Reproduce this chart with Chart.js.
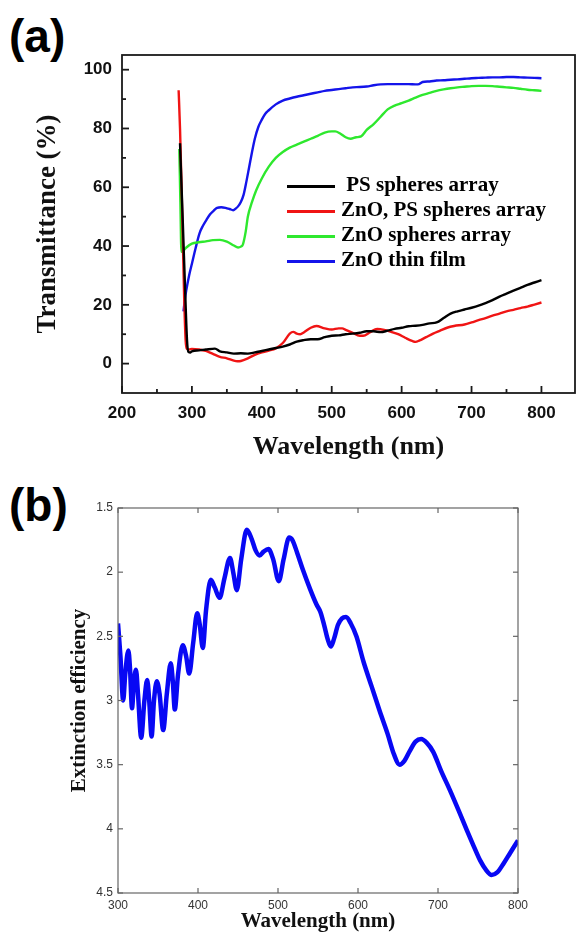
<!DOCTYPE html>
<html lang="en">
<head>
  <meta charset="UTF-8" />
  <title>Transmittance and extinction spectra</title>
  <script src="https://cdn.jsdelivr.net/npm/chart.js"></script>
  <style>
    body {
      margin: 0;
      background: #fff;
      width: 576px;
      height: 936px;
      position: relative;
      overflow: hidden;
    }
    canvas {
      position: absolute;
      left: 0;
    }
    #chartA { top: 0; }
    #chartB { top: 470px; }
    .panel {
      position: absolute;
      left: 9px;
      font-family: "Liberation Sans", Arial, sans-serif;
      font-weight: bold;
      font-size: 46px;
      line-height: 46px;
    }
    #legendA {
      position: absolute;
      left: 287px;
      top: 172px;
      font-family: "Liberation Serif", "Times New Roman", serif;
      font-weight: bold;
      font-size: 21px;
    }
    #legendA .row {
      height: 25px;
      line-height: 25px;
      white-space: pre;
    }
    #legendA .swatch {
      display: inline-block;
      width: 48px;
      height: 3px;
      vertical-align: middle;
      margin-right: 6px;
    }
  </style>
</head>
<body>
  <div class="panel" style="top: 13px;">(a)</div>
  <div class="panel" style="top: 482px;">(b)</div>
  <canvas id="chartA" width="576" height="470"></canvas>
  <div id="legendA"></div>
  <canvas id="chartB" width="576" height="466"></canvas>

  <script>
    // (a) transmittance spectra
    const psWl = [283, 287, 291, 293, 295, 298, 300, 310, 320, 333, 340, 350, 360, 370, 380, 390, 400, 410, 420, 430, 440, 450, 460, 470, 480, 490, 500, 510, 520, 530, 540, 550, 560, 570, 580, 590, 600, 610, 620, 630, 640, 650, 660, 670, 680, 690, 700, 710, 720, 730, 740, 750, 760, 770, 780, 790, 800];
    const psT = [75, 48, 20, 8, 4, 3.8, 4.2, 4.5, 4.8, 5.1, 4.2, 3.8, 3.4, 3.5, 3.4, 3.8, 4.3, 4.8, 5.3, 5.8, 6.5, 7.5, 8.0, 8.3, 8.3, 9.0, 9.5, 9.6, 10.0, 10.2, 10.5, 11.0, 11.0, 10.7, 11.2, 11.8, 12.2, 12.7, 12.9, 13.2, 13.7, 14.0, 15.5, 17.0, 17.8, 18.4, 19.0, 19.7, 20.6, 21.6, 22.8, 23.8, 24.8, 25.8, 26.8, 27.6, 28.4];

    const znoPsWl = [281, 283, 285, 287, 289, 291, 293, 296, 300, 310, 320, 330, 340, 350, 360, 365, 370, 380, 390, 400, 410, 420, 430, 440, 445, 450, 455, 460, 470, 478, 490, 500, 510, 515, 520, 530, 540, 545, 555, 565, 575, 585, 595, 605, 615, 620, 625, 635, 645, 655, 665, 675, 690, 700, 710, 720, 730, 740, 750, 760, 770, 780, 790, 800];
    const znoPsT = [93, 80, 62, 42, 22, 8, 5, 4.8, 5.0, 4.8, 4.3, 3.3, 2.3, 1.8, 1.0, 0.8, 0.9, 1.8, 3.0, 3.8, 4.4, 5.2, 7.0, 10.2, 10.8, 10.2, 10.0, 10.6, 12.2, 12.8, 12.0, 11.6, 12.0, 12.0, 11.5, 10.5, 9.5, 9.5, 10.7, 11.8, 11.5, 10.8, 10.0, 8.8, 7.7, 7.4, 7.8, 9.0, 10.2, 11.2, 12.2, 12.8, 13.3, 14.0, 14.8, 15.5, 16.3, 17.0, 17.8, 18.3, 18.9, 19.4, 20.1, 20.8];

    const znoSphWl = [282, 283.5, 285, 288, 292, 300, 310, 320, 330, 340, 350, 360, 366, 370, 373, 377, 380, 386, 392, 400, 410, 420, 430, 440, 450, 460, 470, 480, 490, 500, 505, 512, 520, 527, 535, 542, 550, 560, 570, 580, 590, 600, 610, 620, 630, 640, 650, 660, 670, 680, 690, 700, 710, 720, 730, 740, 750, 760, 770, 780, 790, 800];
    const znoSphT = [73, 55, 38, 38.5, 39.5, 40.8, 41.3, 41.6, 42.0, 42.1, 41.5, 40.2, 39.5, 39.8, 40.6, 45, 50, 55, 59, 63, 67, 70, 72, 73.5, 74.5, 75.5, 76.5, 77.5, 78.6, 79, 79, 78.3, 77, 76.5, 77, 77.3, 79.5, 81.5, 84, 86.5, 87.8, 88.6, 89.5, 90.5, 91.4, 92.1, 92.8, 93.3, 93.7, 94.0, 94.2, 94.4, 94.5, 94.5, 94.4, 94.2, 94.0, 93.8, 93.5, 93.2, 93.0, 92.8];

    const filmWl = [288, 290, 292, 296, 300, 305, 311, 316, 321, 326, 331, 336, 342, 348, 354, 359, 363, 366, 370, 374, 378, 382, 386, 390, 395, 400, 405, 410, 420, 430, 440, 450, 460, 470, 480, 490, 500, 510, 520, 530, 540, 550, 560, 570, 580, 590, 600, 610, 620, 625, 630, 640, 650, 660, 670, 680, 690, 700, 710, 720, 730, 740, 750, 760, 770, 780, 790, 800];
    const filmT = [17.8, 22, 25, 30, 34, 39, 44.4, 47, 49, 50.8, 52, 53, 53.2, 53, 52.6, 52.2, 52.8, 53.5, 55, 57.5, 62, 67, 72, 76.5, 80.5, 83, 85, 86.2, 88.2, 89.5, 90.2, 90.8, 91.3, 91.8, 92.3, 92.8, 93.1, 93.4, 93.7, 94, 94.1, 94.3, 94.7, 95, 95.1, 95.1, 95.1, 95.1, 95.0, 95.1, 95.8, 96.0, 96.3, 96.4, 96.6, 96.7, 96.9, 97.1, 97.2, 97.3, 97.4, 97.4, 97.5, 97.5, 97.4, 97.3, 97.2, 97.1];

    const seriesNamesA = [" PS spheres array", "ZnO, PS spheres array", "ZnO spheres array", "ZnO thin film"];
    const seriesColorsA = ["#000000", "#f01414", "#2ee82e", "#1414ea"];
    const xTicksA = [200, 300, 400, 500, 600, 700, 800];
    const yTicksA = [0, 20, 40, 60, 80, 100];

    // (b) extinction efficiency
    const extWl = [300, 303, 306.5, 309, 313, 315, 317.5, 320, 322.5, 325, 329, 333, 336.5, 339, 342, 345, 348.5, 352, 356.5, 361, 366, 368.5, 371, 375, 381, 385, 389, 394, 399, 402, 406, 410, 416, 421, 427, 433, 440, 444, 448.5, 454, 461, 467, 472, 477, 482, 488, 494, 501, 507, 514, 518, 524, 531, 540, 548, 553, 558, 562, 566, 570, 575, 580, 585, 591, 598, 607, 617, 627, 637, 645, 652, 658, 665, 672, 679, 686, 694, 704, 715, 726, 736, 745, 753, 760, 767, 774, 782, 790, 800];
    const extEff = [2.40, 2.65, 3.00, 2.80, 2.61, 2.75, 3.06, 2.85, 2.76, 2.95, 3.29, 3.00, 2.84, 3.00, 3.28, 3.00, 2.85, 2.95, 3.23, 2.95, 2.71, 2.85, 3.07, 2.80, 2.57, 2.65, 2.79, 2.55, 2.32, 2.40, 2.59, 2.30, 2.06, 2.12, 2.20, 2.05, 1.89, 2.00, 2.14, 1.90, 1.67, 1.74, 1.83, 1.87, 1.84, 1.82, 1.90, 2.07, 1.90, 1.73, 1.75, 1.85, 1.98, 2.13, 2.25, 2.31, 2.42, 2.52, 2.58, 2.52, 2.41, 2.36, 2.35, 2.40, 2.50, 2.70, 2.89, 3.08, 3.26, 3.42, 3.50, 3.47, 3.39, 3.32, 3.30, 3.33, 3.40, 3.55, 3.70, 3.86, 4.01, 4.14, 4.25, 4.32, 4.36, 4.34, 4.27, 4.19, 4.09];
    const xTicksB = [300, 400, 500, 600, 700, 800];
    const yTicksB = [1.5, 2, 2.5, 3, 3.5, 4, 4.5];

    const pairs = (xs, ys) => xs.map((x, i) => ({ x: x, y: ys[i] }));

    // box round the plot with inward tick marks
    const frameTicks = {
      id: "frameTicks",
      afterDraw(chart, args, o) {
        const { ctx, chartArea: a, scales: { x, y } } = chart;
        ctx.save();
        ctx.strokeStyle = o.color;
        ctx.lineWidth = o.width;
        ctx.strokeRect(a.left, a.top, a.right - a.left, a.bottom - a.top);
        const mark = (x0, y0, dx, dy) => {
          ctx.beginPath();
          ctx.moveTo(x0, y0);
          ctx.lineTo(x0 + dx, y0 + dy);
          ctx.stroke();
        };
        o.xMajor.forEach(v => {
          const p = x.getPixelForValue(v);
          mark(p, a.bottom, 0, -o.major);
          if (o.mirror) mark(p, a.top, 0, o.major);
        });
        (o.xMinor || []).forEach(v => mark(x.getPixelForValue(v), a.bottom, 0, -o.minor));
        o.yMajor.forEach(v => {
          const p = y.getPixelForValue(v);
          mark(a.left, p, o.major, 0);
          if (o.mirror) mark(a.right, p, -o.major, 0);
        });
        (o.yMinor || []).forEach(v => mark(a.left, y.getPixelForValue(v), o.minor, 0));
        ctx.restore();
      }
    };

    const xMinorA = [];
    for (let v = 250; v <= 800; v += 100) xMinorA.push(v);
    const yMinorA = [];
    for (let v = 10; v <= 100; v += 20) yMinorA.push(v);

    const seriesA = [[psWl, psT], [znoPsWl, znoPsT], [znoSphWl, znoSphT], [filmWl, filmT]];

    const chartA = new Chart(document.getElementById("chartA"), {
      type: "line",
      data: {
        datasets: seriesA.map((s, i) => ({
          label: seriesNamesA[i],
          data: pairs(s[0], s[1]),
          borderColor: seriesColorsA[i],
          borderWidth: 2.4,
          pointRadius: 0,
          cubicInterpolationMode: "monotone",
          fill: false
        }))
      },
      options: {
        responsive: false,
        animation: false,
        layout: { padding: { left: 0, top: 55, right: 1, bottom: 0 } },
        plugins: {
          legend: { display: false },
          tooltip: { enabled: false },
          frameTicks: {
            color: "#1a1a1a", width: 1.8, major: 7, minor: 4, mirror: false,
            xMajor: xTicksA, xMinor: xMinorA, yMajor: yTicksA, yMinor: yMinorA
          }
        },
        scales: {
          x: {
            type: "linear",
            min: 200,
            max: 848,
            afterBuildTicks: s => { s.ticks = xTicksA.map(v => ({ value: v })); },
            afterFit: s => { s.height = 77; },
            grid: { display: false, drawTicks: false },
            border: { display: false },
            ticks: {
              padding: 10,
              color: "#111",
              maxRotation: 0,
              font: { family: "'Liberation Sans', Arial, sans-serif", size: 17, weight: "bold" },
              callback: v => String(v)
            },
            title: {
              display: true,
              text: "Wavelength (nm)",
              color: "#111",
              font: { family: "'Liberation Serif', 'Times New Roman', serif", size: 26, weight: "bold" },
              padding: { top: 0, bottom: 7 }
            }
          },
          y: {
            min: -10,
            max: 105,
            afterBuildTicks: s => { s.ticks = yTicksA.map(v => ({ value: v })); },
            afterFit: s => { s.width = 122; },
            grid: { display: false, drawTicks: false },
            border: { display: false },
            ticks: {
              padding: 10,
              color: "#111",
              font: { family: "'Liberation Sans', Arial, sans-serif", size: 17, weight: "bold" },
              callback: v => String(v)
            },
            title: {
              display: true,
              text: "Transmittance (%)",
              color: "#111",
              font: { family: "'Liberation Serif', 'Times New Roman', serif", size: 27, weight: "bold" },
              padding: { top: 32, bottom: 0 }
            }
          }
        }
      },
      plugins: [frameTicks]
    });

    // legend for (a), built from the chart's datasets
    const legendA = document.getElementById("legendA");
    chartA.data.datasets.forEach(ds => {
      const row = document.createElement("div");
      row.className = "row";
      const sw = document.createElement("span");
      sw.className = "swatch";
      sw.style.background = ds.borderColor;
      row.appendChild(sw);
      row.appendChild(document.createTextNode(ds.label));
      legendA.appendChild(row);
    });

    new Chart(document.getElementById("chartB"), {
      type: "line",
      data: {
        datasets: [{
          label: "Extinction efficiency",
          data: pairs(extWl, extEff),
          borderColor: "#0808f4",
          borderWidth: 4.5,
          pointRadius: 0,
          cubicInterpolationMode: "monotone",
          fill: false
        }]
      },
      options: {
        responsive: false,
        animation: false,
        layout: { padding: { left: 0, top: 38, right: 58, bottom: 0 } },
        plugins: {
          legend: { display: false },
          tooltip: { enabled: false },
          frameTicks: {
            color: "#666", width: 1.2, major: 5, minor: 0, mirror: true,
            xMajor: xTicksB, yMajor: yTicksB
          }
        },
        scales: {
          x: {
            type: "linear",
            min: 300,
            max: 800,
            afterBuildTicks: s => { s.ticks = xTicksB.map(v => ({ value: v })); },
            afterFit: s => { s.height = 43; },
            grid: { display: false, drawTicks: false },
            border: { display: false },
            ticks: {
              padding: 5,
              color: "#333",
              maxRotation: 0,
              font: { family: "'Liberation Sans', Arial, sans-serif", size: 12 },
              callback: v => String(v)
            },
            title: {
              display: true,
              text: "Wavelength (nm)",
              color: "#111",
              font: { family: "'Liberation Serif', 'Times New Roman', serif", size: 21, weight: "bold" },
              padding: { top: 0, bottom: 2 }
            }
          },
          y: {
            min: 1.5,
            max: 4.5,
            reverse: true,
            afterBuildTicks: s => { s.ticks = yTicksB.map(v => ({ value: v })); },
            afterFit: s => { s.width = 118; },
            grid: { display: false, drawTicks: false },
            border: { display: false },
            ticks: {
              padding: 5,
              color: "#333",
              font: { family: "'Liberation Sans', Arial, sans-serif", size: 12 },
              callback: v => String(v)
            },
            title: {
              display: true,
              text: "Extinction efficiency",
              color: "#111",
              font: { family: "'Liberation Serif', 'Times New Roman', serif", size: 21, weight: "bold" },
              padding: { top: 67, bottom: 0 }
            }
          }
        }
      },
      plugins: [frameTicks]
    });
  </script>
</body>
</html>
